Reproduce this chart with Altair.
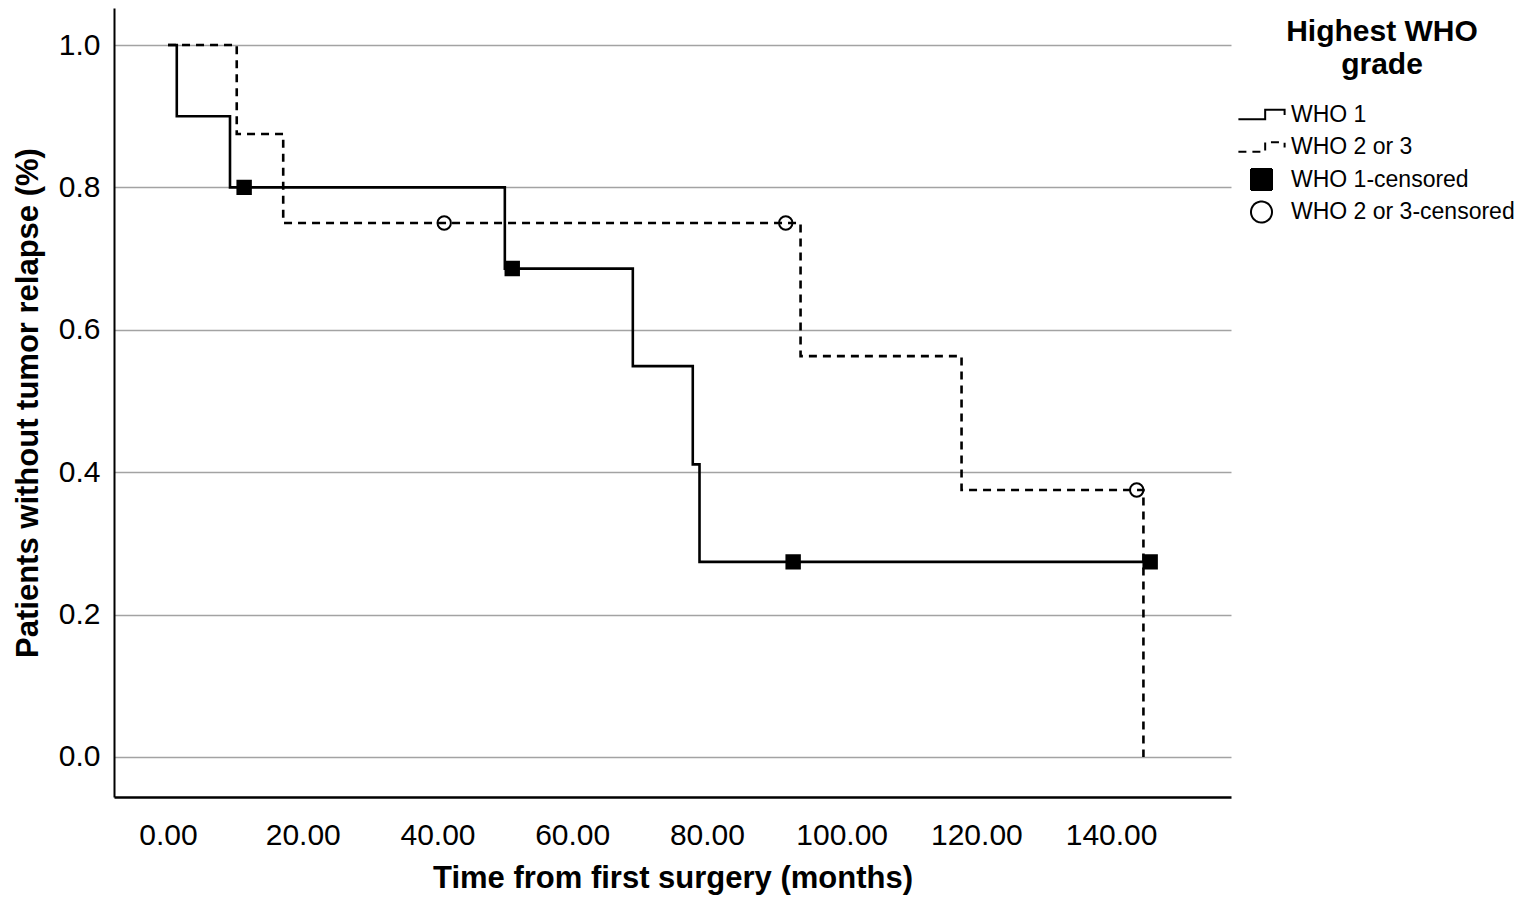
import altair as alt
import pandas as pd

FONT = "Liberation Sans"

# Series names (legend entries)
categories = ["WHO 1", "WHO 2 or 3", "WHO 1-censored", "WHO 2 or 3-censored"]

# Kaplan-Meier step curves (time in months, survival proportion)
who1_time = [0.0, 1.3, 9.2, 50.0, 69.0, 77.9, 78.9, 145.8]
who1_surv = [1.0, 0.9, 0.8, 0.686, 0.549, 0.411, 0.274, 0.274]

who23_time = [0.0, 10.2, 17.1, 93.9, 117.8, 144.8]
who23_surv = [1.0, 0.875, 0.75, 0.563, 0.375, 0.0]

# Censored observations
who1_cens_time = [11.3, 51.1, 92.8, 145.8]
who1_cens_surv = [0.8, 0.686, 0.274, 0.274]

who23_cens_time = [41.0, 91.7, 143.8]
who23_cens_surv = [0.75, 0.75, 0.375]

# Tick labels
x_ticks = [0, 20, 40, 60, 80, 100, 120, 140]
y_ticks = [0.0, 0.2, 0.4, 0.6, 0.8, 1.0]

lines_df = pd.concat([
    pd.DataFrame({"time": who1_time, "surv": who1_surv, "series": categories[0]}),
    pd.DataFrame({"time": who23_time, "surv": who23_surv, "series": categories[1]}),
], ignore_index=True)

cens_df = pd.concat([
    pd.DataFrame({"time": who1_cens_time, "surv": who1_cens_surv, "series": categories[2]}),
    pd.DataFrame({"time": who23_cens_time, "surv": who23_cens_surv, "series": categories[3]}),
], ignore_index=True)

step_path = "M-2.2,0.45H0.35V-0.45H2.2V0.05"

legend = alt.Legend(
    title=["Highest WHO", "grade"],
    orient="none", legendX=1136, legendY=9,
    titleFont=FONT, titleFontSize=30, titleFontWeight="bold", titleColor="black",
    titleAlign="center", titleAnchor="middle", titleLineHeight=33, titlePadding=23,
    titleLimit=500,
    labelFont=FONT, labelFontSize=23, labelColor="black", labelOffset=18, labelLimit=400,
    symbolSize=441, symbolStrokeColor="black", symbolStrokeWidth=2, rowPadding=3.5,
    gridAlign="all", padding=0,
)

x_scale = alt.Scale(domain=[-8.02, 157.8], nice=False, zero=False)
y_scale = alt.Scale(domain=[-0.0562, 1.052], nice=False, zero=False)

x_axis = alt.Axis(
    values=x_ticks, format=".2f", labelFont=FONT, labelFontSize=30, labelColor="black",
    labelPadding=23, ticks=False, tickSize=0, grid=False, domainColor="black", domainWidth=2.5,
    labelOverlap=False, labelFlush=False,
    titleFont=FONT, titleFontSize=31, titleFontWeight="bold", titleColor="black", titlePadding=13,
)
y_axis = alt.Axis(
    values=y_ticks, format=".1f", labelFont=FONT, labelFontSize=30, labelColor="black",
    labelPadding=14, ticks=False, tickSize=0, grid=True, gridColor="#a3a3a3", gridWidth=1.5,
    domainColor="black", domainWidth=2, labelOverlap=False, labelFlush=False,
    titleFont=FONT, titleFontSize=31, titleFontWeight="bold", titleColor="black", titlePadding=14,
)

lines = alt.Chart(lines_df).mark_line(
    interpolate="step-after", color="black", strokeWidth=2.6
).encode(
    x=alt.X("time:Q", scale=x_scale, axis=x_axis, title="Time from first surgery (months)"),
    y=alt.Y("surv:Q", scale=y_scale, axis=y_axis, title="Patients without tumor relapse (%)"),
    strokeDash=alt.StrokeDash(
        "series:N",
        scale=alt.Scale(domain=categories, range=[[1, 0], [8, 6], [1, 0], [1, 0]]),
        legend=legend,
    ),
)

points = alt.Chart(cens_df).mark_point(
    size=180, strokeWidth=2, opacity=1
).encode(
    x=alt.X("time:Q", scale=x_scale),
    y=alt.Y("surv:Q", scale=y_scale),
    shape=alt.Shape(
        "series:N",
        scale=alt.Scale(domain=categories, range=[step_path, step_path, "square", "circle"]),
        legend=legend,
    ),
    fill=alt.Fill(
        "series:N",
        scale=alt.Scale(domain=categories, range=["transparent", "transparent", "black", "transparent"]),
        legend=legend,
    ),
    stroke=alt.Stroke(
        "series:N",
        scale=alt.Scale(domain=categories, range=["black", "black", "black", "black"]),
        legend=legend,
    ),
)

chart = alt.layer(lines, points).properties(
    width=1117,
    height=789,
    padding={"left": 106, "top": 0, "right": 285, "bottom": 99},
    autosize=alt.AutoSizeParams(type="none"),
    background="white",
).configure_view(strokeWidth=0)

chart.save("out.html", embed_options={"renderer": "svg", "actions": False})
